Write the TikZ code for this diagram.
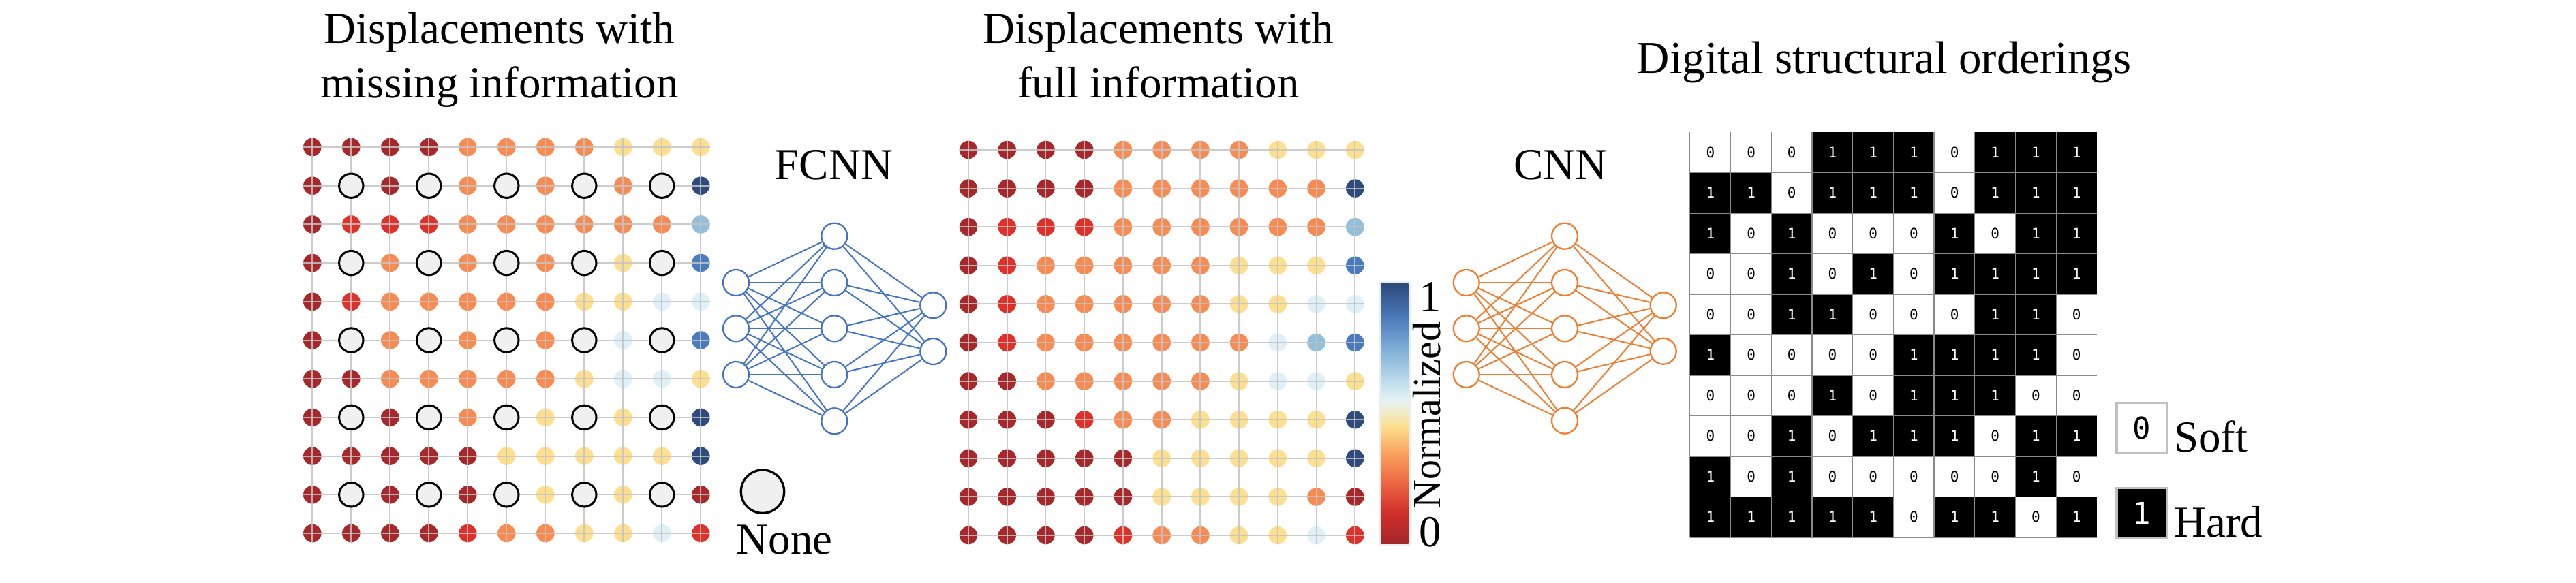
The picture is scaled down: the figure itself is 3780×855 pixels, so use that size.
\documentclass[tikz,border=0pt]{standalone}
\usepackage{fontspec}
\setmainfont{Liberation Serif}
\newfontfamily\monof{DejaVu Sans Mono}
\usetikzlibrary{calc}

\definecolor{cD}{HTML}{A6282B}
\definecolor{cR}{HTML}{E0302A}
\definecolor{cO}{HTML}{F88B52}
\definecolor{cY}{HTML}{FDE08F}
\definecolor{cL}{HTML}{DFF0F8}
\definecolor{cM}{HTML}{93BFDD}
\definecolor{cB}{HTML}{4A7BBD}
\definecolor{cN}{HTML}{2F4B7D}
\definecolor{cX}{HTML}{FFFFFF}
\definecolor{missfill}{HTML}{F0F0F0}
\definecolor{fcblue}{HTML}{4472C4}
\definecolor{cnnorange}{HTML}{ED7D31}
\definecolor{gridgray}{HTML}{C4C4C4}
\definecolor{cellgray}{HTML}{8A8A8A}
\definecolor{keygray}{HTML}{C0C0C0}
\definecolor{cb0}{HTML}{A3262A}
\definecolor{cb1}{HTML}{D22F2A}
\definecolor{cb2}{HTML}{EE6A44}
\definecolor{cb3}{HTML}{FAA35E}
\definecolor{cb4}{HTML}{FCE08F}
\definecolor{cb5}{HTML}{E6F3F4}
\definecolor{cb6}{HTML}{B5D6EA}
\definecolor{cb7}{HTML}{7EAED6}
\definecolor{cb8}{HTML}{4A7ABA}
\definecolor{cb9}{HTML}{2C4A7C}

\def\LeftRows{{D,D,D,D,O,O,O,O,Y,Y,Y},{D,X,D,X,O,X,O,X,O,X,N},{D,R,R,R,O,O,O,O,O,O,M},{D,X,O,X,O,X,O,X,Y,X,B},{D,R,O,O,O,O,O,Y,Y,L,L},{D,X,O,X,O,X,O,X,L,X,B},{D,D,O,O,O,O,O,Y,L,L,Y},{D,X,D,X,O,X,Y,X,Y,X,N},{D,D,D,D,D,Y,Y,Y,Y,Y,N},{D,X,D,X,D,X,Y,X,Y,X,D},{D,D,D,D,R,O,O,Y,Y,L,R}}
\def\MidRows{{D,D,D,D,O,O,O,O,Y,Y,Y},{D,D,D,D,O,O,O,O,O,O,N},{D,R,R,R,O,O,O,O,O,O,M},{D,R,O,O,O,O,O,Y,Y,Y,B},{D,R,O,O,O,O,O,Y,Y,L,L},{D,R,O,O,O,O,O,O,L,M,B},{D,D,O,O,O,O,O,Y,L,L,Y},{D,D,D,R,O,O,Y,Y,Y,Y,N},{D,D,D,D,D,Y,Y,Y,Y,Y,N},{D,D,D,D,D,Y,Y,Y,Y,O,D},{D,D,D,D,R,O,O,Y,Y,L,R}}
\def\GridRows{{0,0,0,1,1,1,0,1,1,1},{1,1,0,1,1,1,0,1,1,1},{1,0,1,0,0,0,1,0,1,1},{0,0,1,0,1,0,1,1,1,1},{0,0,1,1,0,0,0,1,1,0},{1,0,0,0,0,1,1,1,1,0},{0,0,0,1,0,1,1,1,0,0},{0,0,1,0,1,1,1,0,1,1},{1,0,1,0,0,0,0,0,1,0},{1,1,1,1,1,0,1,1,0,1}}
\def\Xc{X}

\begin{document}
\begin{tikzpicture}[x=1pt,y=-1pt,
  dotc/.style={circle, inner sep=0pt, minimum size=26.6pt, draw=none},
  miss/.style={circle, inner sep=0pt, minimum size=35.4pt, draw=black, line width=3pt, fill=missfill},
  gridln/.style={draw=gridgray, line width=2pt, opacity=0.85},
  neuron/.style={circle, inner sep=0pt, minimum size=38pt, line width=2.3pt, fill=white},
  syn/.style={line width=2pt},
  lbl/.style={inner sep=0pt, font=\fontsize{65}{78}\selectfont},
  gcell/.style={rectangle, inner sep=0pt, minimum width=59.7pt, minimum height=59.5pt, font=\monof\fontsize{21}{25}\selectfont},
  gcell0/.style={fill=white, text=black},
  gcell1/.style={fill=black, text=white},
  cellln/.style={draw=cellgray, line width=1.2pt},
  legbox/.style={rectangle, inner sep=0pt, minimum size=74pt, line width=3.5pt, draw=keygray, font=\monof\fontsize{44}{50}\selectfont},
]
\useasboundingbox (0,0) rectangle (3780,855);
\fill[white] (0,0) rectangle (3780,855);

% ---------- titles ----------
\node[lbl, anchor=base] (t1a) at (733,63.3) {Displacements with};
\node[lbl, anchor=base] (t1b) at (733,143.3) {missing information};
\node[lbl, anchor=base] (t2a) at (1700,63.3) {Displacements with};
\node[lbl, anchor=base] (t2b) at (1700,143.3) {full information};
\node[lbl, anchor=base, font=\fontsize{67}{80}\selectfont] (t3) at (2764.5,107.3) {Digital structural orderings};
\node[lbl, anchor=base] (fcnn) at (1223.3,263.3) {FCNN};
\node[lbl, anchor=base] (cnn) at (2290,263) {CNN};

% ---------- left dot grid ----------
\foreach \r [count=\i] in \LeftRows {
  \foreach \c [count=\j] in \r {
    \node[dotc, fill=c\c] (L-\i-\j) at ({458.3+57*(\j-1)},{216+56.7*(\i-1)}) {};
  }
}
\foreach \j in {1,...,11}
  \draw[gridln] ([yshift=13.3pt]L-1-\j.center) -- ([yshift=-13.3pt]L-11-\j.center);
\foreach \i in {1,...,11}
  \draw[gridln] ([xshift=-13.3pt]L-\i-1.center) -- ([xshift=13.3pt]L-\i-11.center);
\foreach \r [count=\i] in \LeftRows {
  \foreach \c [count=\j] in \r {
    \edef\cc{\c}\ifx\cc\Xc \node[miss] (M-\i-\j) at (L-\i-\j) {};\fi
  }
}

% ---------- middle dot grid ----------
\foreach \r [count=\i] in \MidRows {
  \foreach \c [count=\j] in \r {
    \node[dotc, fill=c\c] (R-\i-\j) at ({1421+56.73*(\j-1)},{220+56.6*(\i-1)}) {};
  }
}
\foreach \j in {1,...,11}
  \draw[gridln] ([yshift=13.3pt]R-1-\j.center) -- ([yshift=-13.3pt]R-11-\j.center);
\foreach \i in {1,...,11}
  \draw[gridln] ([xshift=-13.3pt]R-\i-1.center) -- ([xshift=13.3pt]R-\i-11.center);

% ---------- None legend ----------
\node[miss, minimum size=63.4pt, line width=3.3pt] (nonec) at (1119,721.7) {};
\node[lbl, anchor=base] (nonet) at (1151,813.3) {None};

% ---------- FCNN ----------
\foreach \k/\y in {1/415,2/482.3,3/550} \node[neuron, draw=fcblue] (FI\k) at (1080,\y) {};
\foreach \k/\y in {1/346.7,2/415,3/482.3,4/550,5/618.3} \node[neuron, draw=fcblue] (FH\k) at (1224.3,\y) {};
\foreach \k/\y in {1/448.3,2/516} \node[neuron, draw=fcblue] (FO\k) at (1369.3,\y) {};
\foreach \a in {1,2,3} \foreach \b in {1,...,5} \draw[syn, fcblue] (FI\a) -- (FH\b);
\foreach \a in {1,...,5} \foreach \b in {1,2} \draw[syn, fcblue] (FH\a) -- (FO\b);

% ---------- CNN ----------
\foreach \k/\y in {1/415,2/482.3,3/550} \node[neuron, draw=cnnorange] (CI\k) at (2151.7,\y) {};
\foreach \k/\y in {1/346.7,2/415,3/482.3,4/550,5/617.7} \node[neuron, draw=cnnorange] (CH\k) at (2296,\y) {};
\foreach \k/\y in {1/448.3,2/515.7} \node[neuron, draw=cnnorange] (CO\k) at (2440.7,\y) {};
\foreach \a in {1,2,3} \foreach \b in {1,...,5} \draw[syn, cnnorange] (CI\a) -- (CH\b);
\foreach \a in {1,...,5} \foreach \b in {1,2} \draw[syn, cnnorange] (CH\a) -- (CO\b);

% ---------- colorbar ----------
\draw[draw=black!7, line width=3pt] (2024.7,414.7) rectangle (2068.7,800.3);
\foreach \fa/\fb/\ca/\cbb in {0/0.12/cb0/cb1, 0.12/0.24/cb1/cb2, 0.24/0.35/cb2/cb3, 0.35/0.45/cb3/cb4, 0.45/0.55/cb4/cb5, 0.55/0.64/cb5/cb6, 0.64/0.75/cb6/cb7, 0.75/0.87/cb7/cb8, 0.87/1/cb8/cb9}
  \shade[bottom color=\ca, top color=\cbb] (2026.7,{798.3-381.6*\fa}) rectangle (2066.7,{798.3-381.6*\fb-0.6});
\node[lbl, anchor=base] (one) at (2099,457) {1};
\node[lbl, anchor=base] (zero) at (2099,802) {0};
\node[lbl, rotate=90, anchor=base west, font=\fontsize{58}{70}\selectfont] (norm) at (2113,746.7) {Normalized};

% ---------- digital grid ----------
\foreach \r [count=\i] in \GridRows {
  \foreach \c [count=\j] in \r {
    \node[gcell, gcell\c] (G-\i-\j) at ({2480+59.7*(\j-0.5)},{194+59.5*(\i-0.5)}) {\c};
  }
}
\foreach \j in {1,...,10}
  \draw[cellln] (G-1-\j.north west) -- (G-10-\j.south west);
\foreach \i in {1,...,10}
  \draw[cellln] (G-\i-1.south west) -- (G-\i-10.south east);

% ---------- legend ----------
\node[legbox, fill=white, text=black] (soft) at (3142.8,628.7) {0};
\node[legbox, fill=black, text=white] (hard) at (3142.8,753.7) {1};
\node[lbl, anchor=base west] (softt) at (3190,663.3) {Soft};
\node[lbl, anchor=base west] (hardt) at (3190,788.3) {Hard};
\end{tikzpicture}
\end{document}
